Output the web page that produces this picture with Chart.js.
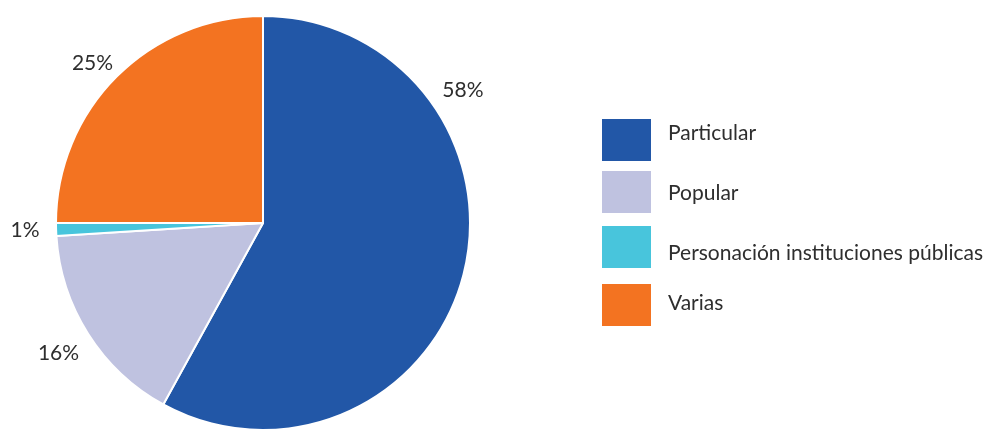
<!DOCTYPE html>
<html>
<head>
<meta charset="utf-8">
<script src="https://cdn.jsdelivr.net/npm/chart.js@4.4.0/dist/chart.umd.min.js"></script>
<style>
  html, body { margin: 0; padding: 0; background: #fff; overflow: hidden; }
  #wrap { width: 994px; height: 431px; position: relative; }
</style>
</head>
<body>
<div id="wrap"><canvas id="pie"></canvas></div>
<script>
const categories = ["Particular", "Popular", "Personación instituciones públicas", "Varias"];
const shares = [58, 16, 1, 25];
const sliceColors = ["#2257A7", "#BFC2E0", "#48C5DC", "#F37321"];

const FONT = "Lato, 'Noto Sans', sans-serif";

// outside percent labels, placed along each arc
const outsideLabels = {
  id: "outsideLabels",
  afterDatasetsDraw(chart, args, opts) {
    const ctx = chart.ctx;
    const arcs = chart.getDatasetMeta(0).data;
    ctx.save();
    ctx.font = "21px " + FONT;
    ctx.fillStyle = "#2e2e2e";
    ctx.textAlign = "center";
    ctx.textBaseline = "middle";
    arcs.forEach((arc, i) => {
      const f = opts.along[i];
      const a = arc.startAngle + (arc.endAngle - arc.startAngle) * f;
      const r = arc.outerRadius * opts.dist[i];
      ctx.fillText(shares[i] + "%", arc.x + Math.cos(a) * r, arc.y + Math.sin(a) * r);
    });
    ctx.restore();
  }
};

// legend on the right
const sideLegend = {
  id: "sideLegend",
  afterDraw(chart, args, opts) {
    const ctx = chart.ctx;
    ctx.save();
    ctx.font = "21px " + FONT;
    ctx.textBaseline = "middle";
    categories.forEach((name, i) => {
      const top = opts.tops[i];
      ctx.fillStyle = sliceColors[i];
      ctx.fillRect(opts.x, top, 49, 42);
      ctx.fillStyle = "#2e2e2e";
      ctx.fillText(name, opts.x + 66, top + 21 + opts.textShift[i]);
    });
    ctx.restore();
  }
};

new Chart(document.getElementById("pie"), {
  type: "pie",
  data: {
    labels: categories,
    datasets: [{
      data: shares,
      backgroundColor: sliceColors,
      borderColor: "#fff",
      borderWidth: 2,
      hoverOffset: 0
    }]
  },
  options: {
    responsive: true,
    maintainAspectRatio: false,
    animation: false,
    layout: { padding: { left: 55, right: 523, top: 15, bottom: 0 } },
    plugins: {
      legend: { display: false },
      tooltip: { enabled: false },
      outsideLabels: { along: [0.27, 0.5, 0.5, 0.48], dist: [1.16, 1.17, 1.15, 1.13] },
      sideLegend: { x: 602, tops: [119, 171, 226, 284], textShift: [-7, 1, 6, -2] }
    }
  },
  plugins: [outsideLabels, sideLegend]
});
</script>
</body>
</html>
